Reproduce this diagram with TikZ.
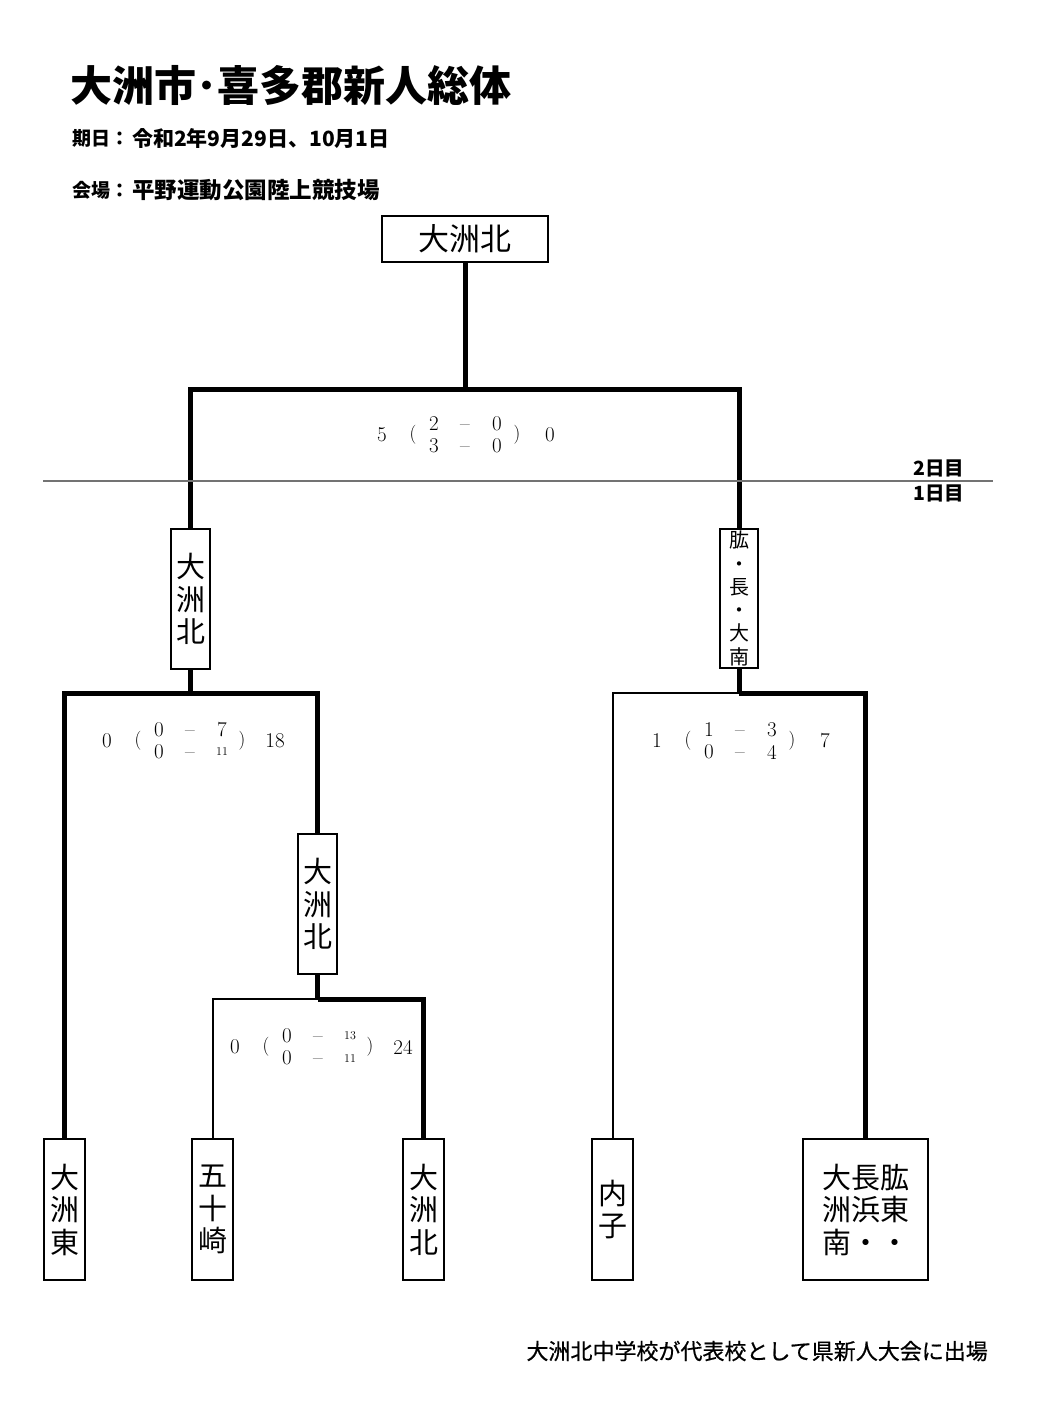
\documentclass[tikz,border=0pt]{standalone}
\usepackage{fontspec}
\newfontfamily\cjk{Noto Sans CJK JP}
\newfontfamily\cjkm{Noto Sans CJK JP}[FakeBold=0.6]
\newcommand\sm[1]{{\fontsize{12}{13}\selectfont #1}}
\newcommand\scoreset[9]{%
  \node[sc] (#1-l) at (#2-83,#3) {#4};
  \node[scp] (#1-p) at (#2-52,#3) {(};
  \node[sc] (#1-a) at (#2-31,#3-11) {#5};
  \node[sc, yshift=-4pt] (#1-da) at (#2,#3-11) {–};
  \node[sc] (#1-b) at (#2+32,#3-11) {#6};
  \node[sc] (#1-c) at (#2-31,#3+11) {#7};
  \node[sc, yshift=-4pt] (#1-db) at (#2,#3+11) {–};
  \node[sc] (#1-d) at (#2+32,#3+11) {#8};
  \node[scp] (#1-q) at (#2+52,#3) {)};
  \node[sc] (#1-r) at (#2+85,#3) {#9};
}
\begin{document}
\begin{tikzpicture}[x=1pt,y=-1pt,
  box/.style={draw, line width=2.2pt, inner sep=0pt, align=center},
  thk/.style={line width=5pt},
  thn/.style={line width=2pt},
  sc/.style={font=\fontsize{21}{22}\selectfont, inner sep=0pt},
  scp/.style={font=\fontsize{19}{20}\selectfont, inner sep=0pt},
  vt/.style={font=\cjk\fontsize{29}{32.5}\selectfont},
  hd/.style={anchor=west, inner sep=0pt},
]
\useasboundingbox (0,0) rectangle (1060,1419);
\fill[white] (0,0) rectangle (1060,1419);

% header
\node[hd, font=\cjk\bfseries\fontsize{42}{44}\selectfont] (title) at (70,85) {大洲市･喜多郡新人総体};
\node[hd, font=\cjk\bfseries\fontsize{19}{20}\selectfont] (dlab) at (72,138) {期日：};
\node[hd, font=\cjk\bfseries\fontsize{21}{22}\selectfont] (dval) at (132,138) {令和2年9月29日、10月1日};
\node[hd, font=\cjk\bfseries\fontsize{19}{20}\selectfont] (vlab) at (72,190) {会場：};
\node[hd, font=\cjk\bfseries\fontsize{22.5}{23}\selectfont] (vval) at (132,190) {平野運動公園陸上競技場};

% boxes
\node[box, minimum width=166, minimum height=46, font=\cjk\fontsize{31}{32}\selectfont] (top) at (465,239) {大洲北};
\node[box, vt, minimum width=39, minimum height=140] (lb) at (190.5,599) {大\\洲\\北};
\node[box, minimum width=38, minimum height=139, font=\cjk\fontsize{20}{23.3}\selectfont] (rb) at (739,598.5) {肱\\・\\長\\・\\大\\南};
\node[box, vt, minimum width=39, minimum height=140] (mb) at (317.5,904) {大\\洲\\北};
\node[box, vt, minimum width=41, minimum height=141] (b1) at (64.5,1209.5) {大\\洲\\東};
\node[box, vt, minimum width=41, minimum height=141] (b2) at (212.5,1209.5) {五\\十\\崎};
\node[box, vt, minimum width=41, minimum height=141] (b3) at (423.5,1209.5) {大\\洲\\北};
\node[box, vt, minimum width=41, minimum height=141] (b4) at (612.5,1209.5) {内\\子};
\node[box, vt, minimum width=125, minimum height=141] (b5) at (865.5,1209.5) {大長肱\\洲浜東\\南・・};

% joints
\coordinate (j1) at (465,389);
\coordinate (j2) at (190.5,693);
\coordinate (j3) at (317.5,999);
\coordinate (j4) at (739,693);

% connectors
\draw[thk] (top.south) -- (j1);
\draw[thk] (lb.north) |- (j1) -| (rb.north);
\draw[thk] (lb.south) -- (j2);
\draw[thk] (b1.north) |- (j2) -| (mb.north);
\draw[thk] (mb.south) -- (j3);
\draw[thn] (b2.north) |- (j3);
\draw[thk] (j3) -| (b3.north);
\draw[thk] (rb.south) -- (j4);
\draw[thn] (b4.north) |- (j4);
\draw[thk] (j4) -| (b5.north);

% day separator
\coordinate (dl) at (43,481);
\coordinate (dr) at (993,481);
\draw[line width=1.2pt, black!55] (dl) -- (dr);
\node[font=\cjk\bfseries\fontsize{19.5}{20}\selectfont, inner sep=0pt] (d2) at (939,468) {2日目};
\node[font=\cjk\bfseries\fontsize{19.5}{20}\selectfont, inner sep=0pt] (d1) at (939,493) {1日目};

% scores
\scoreset{s1}{465}{435}{5}{2}{0}{3}{0}{0}
\scoreset{s2}{190}{741}{0}{0}{7}{0}{\sm{11}}{18}
\scoreset{s3}{740}{741}{1}{1}{3}{0}{4}{7}
\scoreset{s4}{318}{1047}{0}{0}{\sm{13}}{0}{\sm{11}}{24}

% footer
\node[anchor=east, inner sep=0pt, font=\cjkm\fontsize{22}{23}\selectfont] (foot) at (988,1351) {大洲北中学校が代表校として県新人大会に出場};
\end{tikzpicture}
\end{document}
